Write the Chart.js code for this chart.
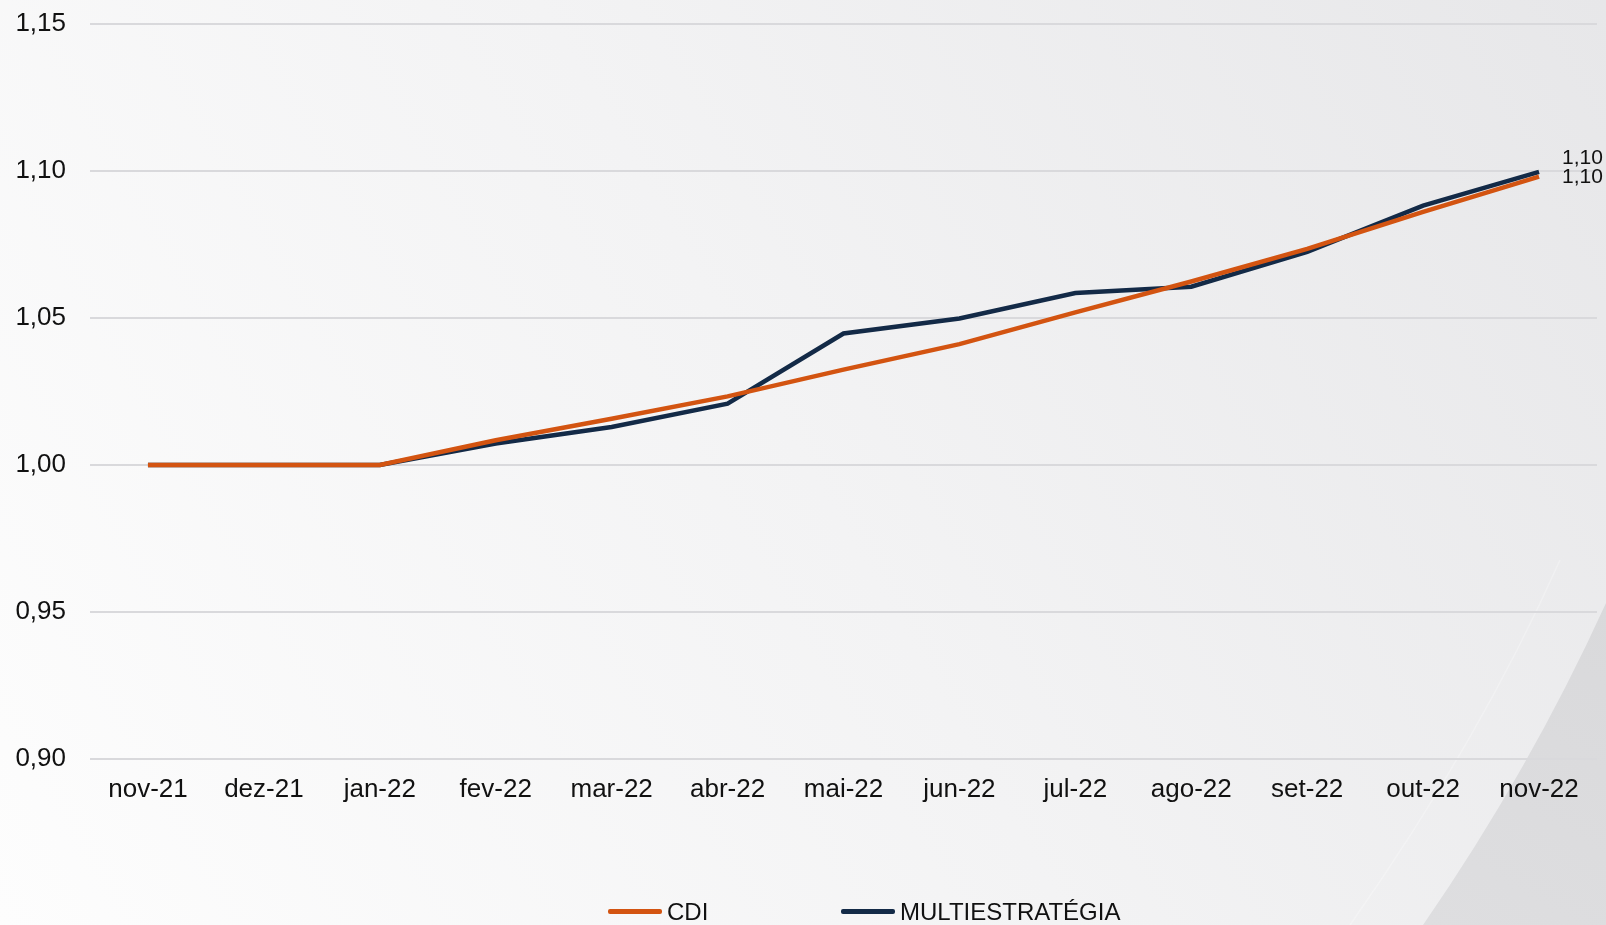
<!DOCTYPE html>
<html>
<head>
<meta charset="utf-8">
<script src="https://cdn.jsdelivr.net/npm/chart.js@4"></script>
<style>
  html, body { margin: 0; padding: 0; overflow: hidden; }
  #wrap { position: relative; width: 1606px; height: 925px; }
  canvas { position: absolute; left: 0; top: 0; }
  .legend { position: absolute; top: 898px; font-family: "Liberation Sans", Arial, sans-serif; font-size: 24px; color: #111; white-space: nowrap; }
  .legend span.line { display: inline-block; width: 54px; height: 4.5px; border-radius: 2px; vertical-align: middle; margin-right: 5px; position: relative; top: -2px; }
</style>
</head>
<body>
<div id="wrap">
  <canvas id="chart" width="1606" height="925"></canvas>
  <div class="legend" style="left:608px"><span class="line" style="background:#d35411"></span>CDI</div>
  <div class="legend" style="left:841px"><span class="line" style="background:#132a47"></span>MULTIESTRATÉGIA</div>
</div>
<script>
const months = ['nov-21', 'dez-21', 'jan-22', 'fev-22', 'mar-22', 'abr-22', 'mai-22', 'jun-22', 'jul-22', 'ago-22', 'set-22', 'out-22', 'nov-22'];
const cdi = [1.0000, 1.0000, 1.0000, 1.0084, 1.0157, 1.0233, 1.0324, 1.0411, 1.0519, 1.0624, 1.0735, 1.0861, 1.0981];
const multi = [1.0000, 1.0000, 1.0000, 1.0073, 1.0129, 1.0208, 1.0447, 1.0498, 1.0585, 1.0606, 1.0725, 1.0882, 1.0997];
const yTicks = [0.90, 0.95, 1.00, 1.05, 1.10, 1.15];

const fmt = v => v.toFixed(2).replace('.', ',');

// fundo cinza com a faixa diagonal no canto
const background = {
  id: 'background',
  beforeDraw(chart) {
    const { ctx, width, height } = chart;
    ctx.save();
    const g = ctx.createLinearGradient(0, height, width, 0);
    g.addColorStop(0, '#fdfdfd');
    g.addColorStop(0.5, '#f3f3f4');
    g.addColorStop(1, '#e7e7e9');
    ctx.fillStyle = g;
    ctx.fillRect(0, 0, width, height);

    ctx.beginPath();
    ctx.moveTo(1423, height);
    ctx.quadraticCurveTo(1530, 770, width, 603);
    ctx.lineTo(width, height);
    ctx.closePath();
    const g2 = ctx.createLinearGradient(1423, height, width, 603);
    g2.addColorStop(0, '#dedee0');
    g2.addColorStop(1, '#d9d9db');
    ctx.fillStyle = g2;
    ctx.fill();

    ctx.beginPath();
    ctx.moveTo(1350, height);
    ctx.quadraticCurveTo(1480, 740, 1560, 560);
    ctx.strokeStyle = 'rgba(255,255,255,0.25)';
    ctx.lineWidth = 1.5;
    ctx.stroke();
    ctx.restore();
  }
};

// rótulo do último ponto de cada série
const endLabels = {
  id: 'endLabels',
  afterDatasetsDraw(chart) {
    const { ctx } = chart;
    ctx.save();
    ctx.font = '21px "Liberation Sans", Arial, sans-serif';
    ctx.fillStyle = '#111';
    ctx.textAlign = 'left';
    ctx.textBaseline = 'middle';
    chart.data.datasets.forEach((ds, i) => {
      const pts = chart.getDatasetMeta(i).data;
      const p = pts[pts.length - 1];
      ctx.fillText(fmt(ds.data[ds.data.length - 1]), p.x + 23, p.y + ds.labelOffset);
    });
    ctx.restore();
  }
};

new Chart(document.getElementById('chart'), {
  type: 'line',
  data: {
    labels: months,
    datasets: [
      { label: 'CDI', data: cdi, borderColor: '#d35411', borderWidth: 4.5, pointRadius: 0, tension: 0, labelOffset: 1 },
      { label: 'MULTIESTRATÉGIA', data: multi, borderColor: '#132a47', borderWidth: 4.5, pointRadius: 0, tension: 0, labelOffset: -14 }
    ]
  },
  options: {
    responsive: false,
    animation: false,
    layout: { padding: { left: 16, right: 9, top: 24, bottom: 105 } },
    plugins: {
      legend: { display: false },
      tooltip: { enabled: false }
    },
    scales: {
      x: {
        offset: true,
        grid: { display: false, drawTicks: false },
        border: { display: false },
        ticks: {
          padding: 15,
          color: '#111',
          font: { family: '"Liberation Sans", Arial, sans-serif', size: 26 },
          maxRotation: 0,
          autoSkip: false
        }
      },
      y: {
        min: 0.90,
        max: 1.15,
        afterFit(scale) {
          scale.width = 74;
          scale.paddingTop = 0;
          scale.paddingBottom = 0;
        },
        afterBuildTicks(scale) { scale.ticks = yTicks.map(v => ({ value: v })); },
        grid: { color: '#d9d9dc', lineWidth: 2, drawTicks: false },
        border: { display: false },
        ticks: {
          padding: 24,
          color: '#111',
          font: { family: '"Liberation Sans", Arial, sans-serif', size: 26 },
          callback: v => fmt(v)
        }
      }
    }
  },
  plugins: [background, endLabels]
});
</script>
</body>
</html>
